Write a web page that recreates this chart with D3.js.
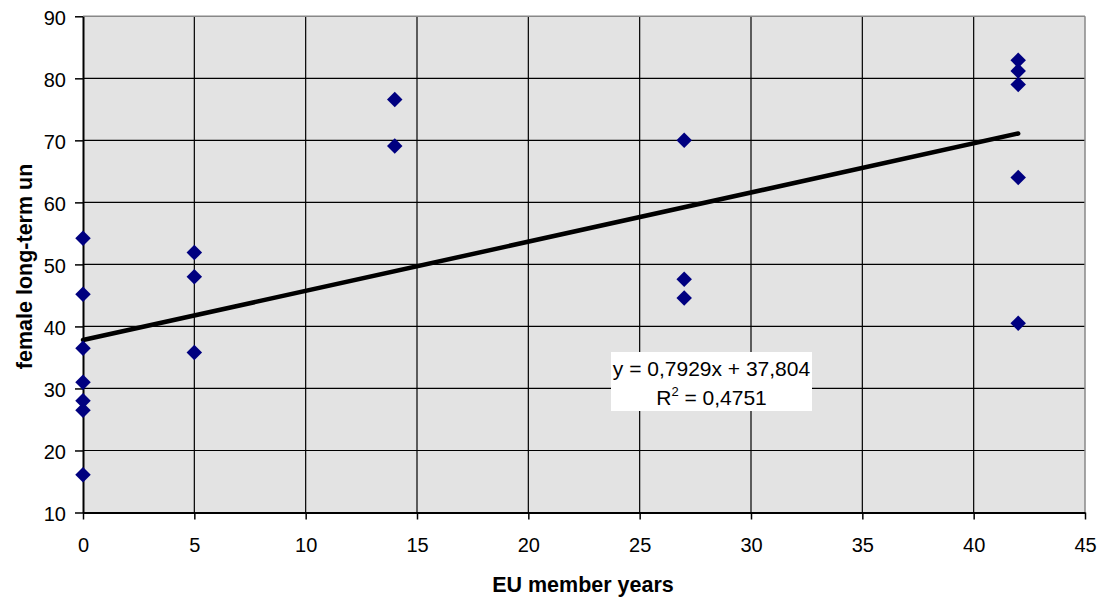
<!DOCTYPE html>
<html><head><meta charset="utf-8">
<script src="https://cdn.jsdelivr.net/npm/d3@7"></script>
<style>body{margin:0;background:#fff}svg{display:block;font-family:"Liberation Sans",Arial,sans-serif}</style>
</head><body><svg id="c" width="1103" height="601"></svg>
<script>
const xValues = [0,0,0,0,0,0,0, 5,5,5, 14,14, 27,27,27, 42,42,42,42,42];
const yValues = [54.2,45.2,36.5,31.0,28.0,26.5,16.1, 51.9,48.0,35.8, 76.6,69.1, 70.0,47.6,44.6, 82.9,81.2,79.0,64.0,40.5];
const xTicks = [0,5,10,15,20,25,30,35,40,45];
const yTicks = [10,20,30,40,50,60,70,80,90];
const slope = 0.7929, intercept = 37.804;
const eqText = "y = 0,7929x + 37,804";
const r2Text = "0,4751";
const xTitle = "EU member years";
const yTitle = "female long-term un";

const svg = d3.select("#c");
const L=83, R=1085, T=16.3, B=512.5;
const x = d3.scaleLinear().domain([0,45]).range([L,R]);
const y = d3.scaleLinear().domain([10,90]).range([B,T]);

svg.append("rect").attr("x",L).attr("y",T).attr("width",R-L).attr("height",B-T).attr("fill","#e3e3e3");
// gridlines
svg.append("g").selectAll("line").data(yTicks.filter(d=>d>10&&d<90)).join("line")
  .attr("x1",L).attr("x2",R).attr("y1",d=>y(d)).attr("y2",d=>y(d)).attr("stroke","#000").attr("stroke-width",1.2);
svg.append("g").selectAll("line").data(xTicks.filter(d=>d>0&&d<45)).join("line")
  .attr("y1",T).attr("y2",B).attr("x1",d=>x(d)).attr("x2",d=>x(d)).attr("stroke","#000").attr("stroke-width",1.2);
// plot border top/right grey
svg.append("line").attr("x1",L).attr("x2",R).attr("y1",T).attr("y2",T).attr("stroke","#888").attr("stroke-width",1.5);
svg.append("line").attr("x1",R).attr("x2",R).attr("y1",T).attr("y2",B).attr("stroke","#888").attr("stroke-width",1.5);

const xa = svg.append("g").attr("transform",`translate(0,${B})`)
  .call(d3.axisBottom(x).tickValues(xTicks).tickSize(7).tickPadding(18).tickSizeOuter(0));
const ya = svg.append("g").attr("transform",`translate(${L},0)`)
  .call(d3.axisLeft(y).tickValues(yTicks).tickSize(8).tickPadding(9).tickSizeOuter(0));
[xa,ya].forEach(a=>{
  a.select(".domain").attr("stroke","#000").attr("stroke-width",2);
  a.selectAll(".tick line").attr("stroke","#000").attr("stroke-width",1.5);
  a.selectAll("text").attr("font-size",20).attr("fill","#000").attr("font-family","Liberation Sans, Arial, sans-serif");
});
ya.selectAll("text").attr("dy","0.42em");

// trend line
svg.append("line").attr("x1",x(0)).attr("y1",y(intercept)).attr("x2",x(42)).attr("y2",y(slope*42+intercept))
  .attr("stroke","#000").attr("stroke-width",4.5).attr("stroke-linecap","round");

// points
const pts = xValues.map((v,i)=>({x:v,y:yValues[i]}));
svg.append("g").selectAll("path").data(pts).join("path")
  .attr("d",d3.symbol().type(d3.symbolSquare).size(120))
  .attr("transform",d=>`translate(${x(d.x)},${y(d.y)}) rotate(45)`)
  .attr("fill","#000080");

// equation label
svg.append("rect").attr("x",611).attr("y",352).attr("width",201).attr("height",59).attr("fill","#fff");
svg.append("text").attr("x",711.5).attr("y",376).attr("text-anchor","middle").attr("font-size",21).text(eqText);
const t2 = svg.append("text").attr("x",711.5).attr("y",405).attr("text-anchor","middle").attr("font-size",21);
t2.append("tspan").text("R");
t2.append("tspan").attr("dy",-9).attr("font-size",13).text("2");
t2.append("tspan").attr("dy",9).text(" = "+r2Text);

// titles
svg.append("text").attr("x",583).attr("y",592).attr("text-anchor","middle").attr("font-size",21.5).attr("font-weight","bold").text(xTitle);
svg.append("text").attr("transform",`translate(32,${(T+B)/2 + 2}) rotate(-90)`).attr("text-anchor","middle").attr("font-size",21.5).attr("font-weight","bold").text(yTitle);
</script></body></html>
